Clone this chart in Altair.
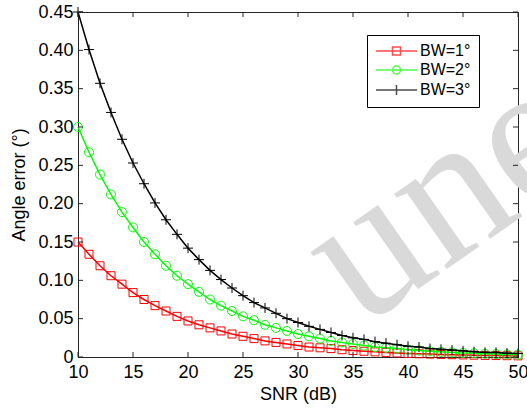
import altair as alt
import pandas as pd

SNR = list(range(10, 51))
BW1 = [0.150, 0.134, 0.119, 0.106, 0.095, 0.084, 0.075, 0.067, 0.060, 0.053,
       0.047, 0.042, 0.038, 0.034, 0.030, 0.027, 0.024, 0.021, 0.019, 0.017,
       0.015, 0.013, 0.012, 0.011, 0.0095, 0.0084, 0.0075, 0.0067, 0.006, 0.0053,
       0.0047, 0.0042, 0.0038, 0.0034, 0.003, 0.0027, 0.0024, 0.0021, 0.0019, 0.0017, 0.0015]
BW2 = [0.300, 0.267, 0.238, 0.212, 0.189, 0.169, 0.150, 0.134, 0.119, 0.106,
       0.095, 0.085, 0.075, 0.067, 0.060, 0.053, 0.048, 0.042, 0.038, 0.034,
       0.030, 0.027, 0.024, 0.021, 0.019, 0.017, 0.015, 0.013, 0.012, 0.011,
       0.0095, 0.0085, 0.0075, 0.0067, 0.006, 0.0053, 0.0048, 0.0042, 0.0038, 0.0034, 0.003]
BW3 = [0.450, 0.401, 0.357, 0.319, 0.284, 0.253, 0.226, 0.201, 0.179, 0.160,
       0.142, 0.127, 0.113, 0.101, 0.090, 0.080, 0.071, 0.064, 0.057, 0.050,
       0.045, 0.040, 0.036, 0.032, 0.028, 0.025, 0.023, 0.020, 0.018, 0.016,
       0.014, 0.013, 0.011, 0.010, 0.009, 0.008, 0.007, 0.006, 0.006, 0.005, 0.0045]
SERIES = ["BW=1°", "BW=2°", "BW=3°"]
COLORS = ["#ff0000", "#00ff00", "#000000"]
XTICKS = [10, 15, 20, 25, 30, 35, 40, 45, 50]
YTICKS = [0, 0.05, 0.10, 0.15, 0.20, 0.25, 0.30, 0.35, 0.40, 0.45]
WATERMARK = ["une"]

rows = []
for name, vals in zip(SERIES, [BW1, BW2, BW3]):
    for s, v in zip(SNR, vals):
        rows.append({"snr": s, "err": v, "series": name})
df = pd.DataFrame(rows)

W, H = 440, 345
FONT = "Liberation Sans"
XT = "SNR (dB)"
YT = "Angle error (°)"

xsc = alt.Scale(domain=[10, 50], nice=False, zero=False)
ysc = alt.Scale(domain=[0, 0.45], nice=False)

xax = alt.Axis(values=XTICKS, ticks=False, grid=False, labelPadding=6,
               titlePadding=4, labelFlush=False, labelOverlap=False)
yax = alt.Axis(values=YTICKS, ticks=False, grid=False, labelPadding=5,
               titlePadding=9, labelFlush=False, labelOverlap=False,
               labelExpr="datum.value == 0 ? '0' : format(datum.value, '.2f')")
xenc = alt.X("snr:Q", scale=xsc, title=XT, axis=xax)
yenc = alt.Y("err:Q", scale=ysc, title=YT, axis=yax)

base = alt.Chart(df)

MARKERS = ["square", "circle", "M-1,0H1M0,-1V1"]
MSIZES = [64, 81, 100]

layers = []

wm = alt.Chart(pd.DataFrame({"w": WATERMARK})).mark_text(
    font="Liberation Serif", fontSize=200, color="#d9d9d9", angle=325,
    align="left", baseline="alphabetic"
).encode(x=alt.value(283), y=alt.value(317), text="w:N")
layers.append(wm)

for name, col, shp, sz in zip(SERIES, COLORS, MARKERS, MSIZES):
    sub = base.transform_filter(alt.datum.series == name)
    layers.append(sub.mark_line(color=col, strokeWidth=1.5).encode(x=xenc, y=yenc))
    layers.append(sub.mark_point(color=col, shape=shp, size=sz, filled=False,
                                 strokeWidth=1, opacity=1).encode(x=xenc, y=yenc))

xt = pd.DataFrame({"snr": XTICKS})
yt = pd.DataFrame({"err": YTICKS})
tick_col = "#262626"
layers.append(alt.Chart(xt).mark_rule(color=tick_col, strokeWidth=1).encode(
    x=xenc, y=alt.value(H), y2=alt.value(H - 5)))
layers.append(alt.Chart(xt).mark_rule(color=tick_col, strokeWidth=1).encode(
    x=xenc, y=alt.value(0), y2=alt.value(5)))
layers.append(alt.Chart(yt).mark_rule(color=tick_col, strokeWidth=1).encode(
    y=yenc, x=alt.value(0), x2=alt.value(5)))
layers.append(alt.Chart(yt).mark_rule(color=tick_col, strokeWidth=1).encode(
    y=yenc, x=alt.value(W - 5), x2=alt.value(W)))

LEG_PATHS = [
    "M-1.17,0H5.67M1.58,-0.67H2.92V0.67H1.58Z",
    "M-1.17,0H5.67M2.92,0A0.67,0.67,0,1,1,1.58,0A0.67,0.67,0,1,1,2.92,0",
    "M-1.17,0H5.67M2.25,-0.85V0.85",
]
legcfg = dict(title=None, orient="none", legendX=289, legendY=23,
              fillColor="white", strokeColor="#000000",
              padding=8, labelFont=FONT, labelFontSize=16,
              labelColor="black", labelOffset=29,
              symbolSize=144, symbolStrokeWidth=1.5, rowPadding=3)
leg = base.transform_filter(alt.datum.snr < 0).mark_point(filled=False).encode(
    x=xenc, y=yenc,
    color=alt.Color("series:N", scale=alt.Scale(domain=SERIES, range=COLORS),
                    legend=alt.Legend(**legcfg)),
    shape=alt.Shape("series:N", scale=alt.Scale(domain=SERIES, range=LEG_PATHS),
                    legend=alt.Legend(**legcfg)),
)
layers.append(leg)

chart = alt.layer(*layers).properties(
    width=W, height=H, background="white",
    padding={"left": 78, "top": 12, "right": 9, "bottom": 53},
    autosize=alt.AutoSizeParams(type="none"),
).configure_view(stroke="#262626", strokeWidth=1).configure_axis(
    labelFont=FONT, labelFontSize=18, labelColor="black", labelOverlap=False,
    titleFont=FONT, titleFontSize=18, titleColor="black", titleFontWeight="normal",
    domainColor="#262626", domainWidth=1,
)

chart.save("out.html", embed_options={"renderer": "svg", "actions": False})
